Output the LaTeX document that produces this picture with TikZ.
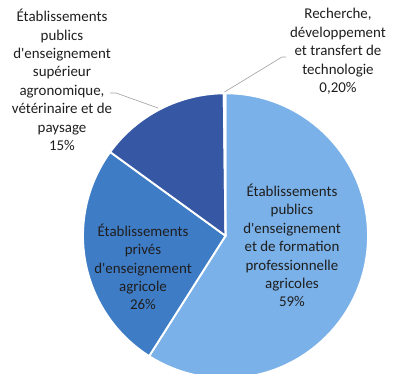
\documentclass[tikz,border=0pt]{standalone}
\usepackage{fontspec}
\setmainfont{Carlito}[Ligatures=TeXOff]
\usetikzlibrary{positioning}
\definecolor{pubpro}{HTML}{7AB1E8}
\definecolor{prive}{HTML}{3F7CC6}
\definecolor{supagro}{HTML}{3557A4}
\definecolor{recher}{HTML}{9DC3EE}
\definecolor{txt}{HTML}{1E1E1E}
\definecolor{leader}{HTML}{A5A5A5}

\begin{document}
\begin{tikzpicture}[x=0.75pt, y=-0.75pt,
    lbl/.style={align=center, text=txt, inner sep=0pt,
        font=\fontsize{11.2}{13.8}\selectfont},
    slice/.style={draw=white, line width=1.4pt},
    lead/.style={draw=leader, line width=0.5pt}]
    \useasboundingbox (0,0) rectangle (393,374);
    \clip (0,0) rectangle (393,374);
    % Slices
    \coordinate (c) at (225.5,235.8);
    \begin{scope}[shift={(c)}, x=0.75pt, y=0.75pt]
        \fill[pubpro, slice] (0,0) -- (90:142.5) arc[start angle=90, end angle=-122.4, radius=142.5] -- cycle;
        \fill[prive, slice] (0,0) -- (-122.4:142.5) arc[start angle=-122.4, end angle=-216, radius=142.5] -- cycle;
        \fill[supagro, slice] (0,0) -- (-216:142.5) arc[start angle=-216, end angle=-269.3, radius=142.5] -- cycle;
        \fill[recher, slice] (0,0) -- (-269.3:142.5) arc[start angle=-269.3, end angle=-270, radius=142.5] -- cycle;
    \end{scope}
    % Nodes
    \node[lbl] (sup) at (62,80) {Établissements\\publics\\d'enseignement\\supérieur\\agronomique,\\vétérinaire et de\\paysage\\15\%};
    \node[lbl] (rech) at (338,51.5) {Recherche,\\développement\\et transfert de\\technologie\\0,20\%};
    \node[lbl] (pub) at (292,245.5) {Établissements\\publics\\d'enseignement\\et de formation\\professionnelle\\agricoles\\59\%};
    \node[lbl] (priv) at (143,267) {Établissements\\privés\\d'enseignement\\agricole\\26\%};
    % Leaders
    \coordinate (supA) at (110,93);
    \coordinate (supK) at (116,93);
    \coordinate (supB) at (158,108);
    \coordinate (rechA) at (286,57);
    \coordinate (rechK) at (282,57);
    \coordinate (rechB) at (224.5,92);
    \draw[lead] (supA) -- (supK) -- (supB);
    \draw[lead] (rechA) -- (rechK) -- (rechB);
\end{tikzpicture}
\end{document}
